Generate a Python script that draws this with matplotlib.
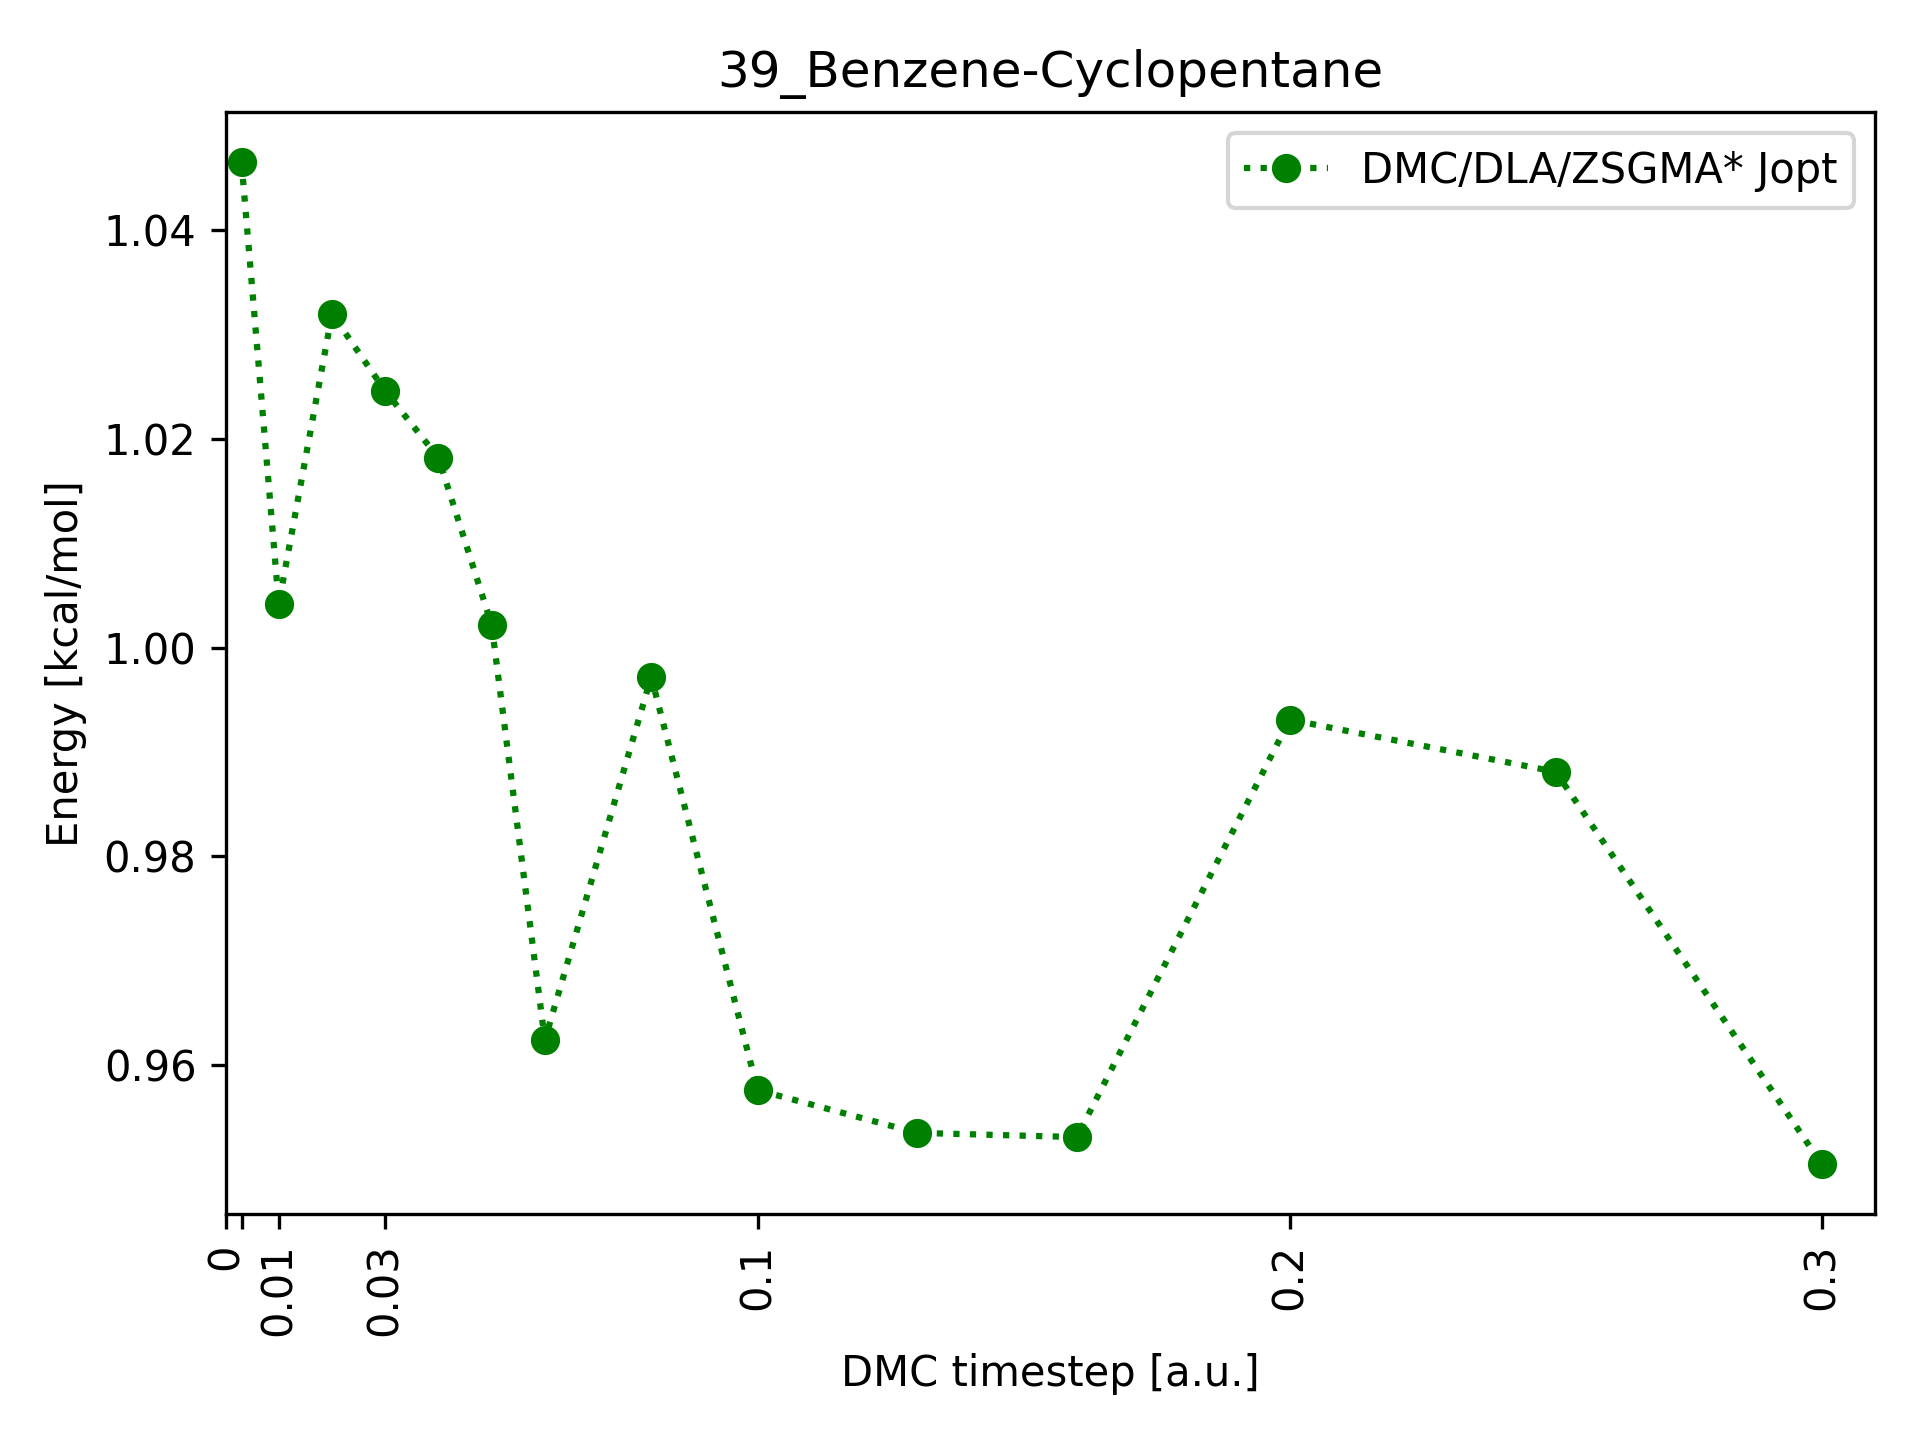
import matplotlib
matplotlib.use("Agg")
import matplotlib.pyplot as plt

# DMC timestep [a.u.] and interaction energy [kcal/mol]
timesteps = [0.003, 0.01, 0.02, 0.03, 0.04, 0.05, 0.06, 0.08,
             0.1, 0.13, 0.16, 0.2, 0.25, 0.3]
energies = [1.0465, 1.0042, 1.0320, 1.0246, 1.0182, 1.0022, 0.9624, 0.9972,
            0.9576, 0.9535, 0.9531, 0.9931, 0.9881, 0.9505]

tick_pos = [0, 0.003, 0.01, 0.03, 0.1, 0.2, 0.3]
tick_labels = ['0', '', '0.01', '0.03', '0.1', '0.2', '0.3']

fig, ax = plt.subplots(figsize=(6.4, 4.8), dpi=300)
ax.plot(timesteps, energies, 'o:', color='g', label='DMC/DLA/ZSGMA* Jopt')
ax.set_xlim(0, 0.31)
ax.set_xticks(tick_pos)
ax.set_xticklabels(tick_labels, rotation=90)
ax.set_xlabel('DMC timestep [a.u.]')
ax.set_ylabel('Energy [kcal/mol]')
ax.set_title('39_Benzene-Cyclopentane')
ax.legend(loc='upper right')
fig.tight_layout()
fig.subplots_adjust(top=0.922)
fig.savefig('out.png', dpi=300)
